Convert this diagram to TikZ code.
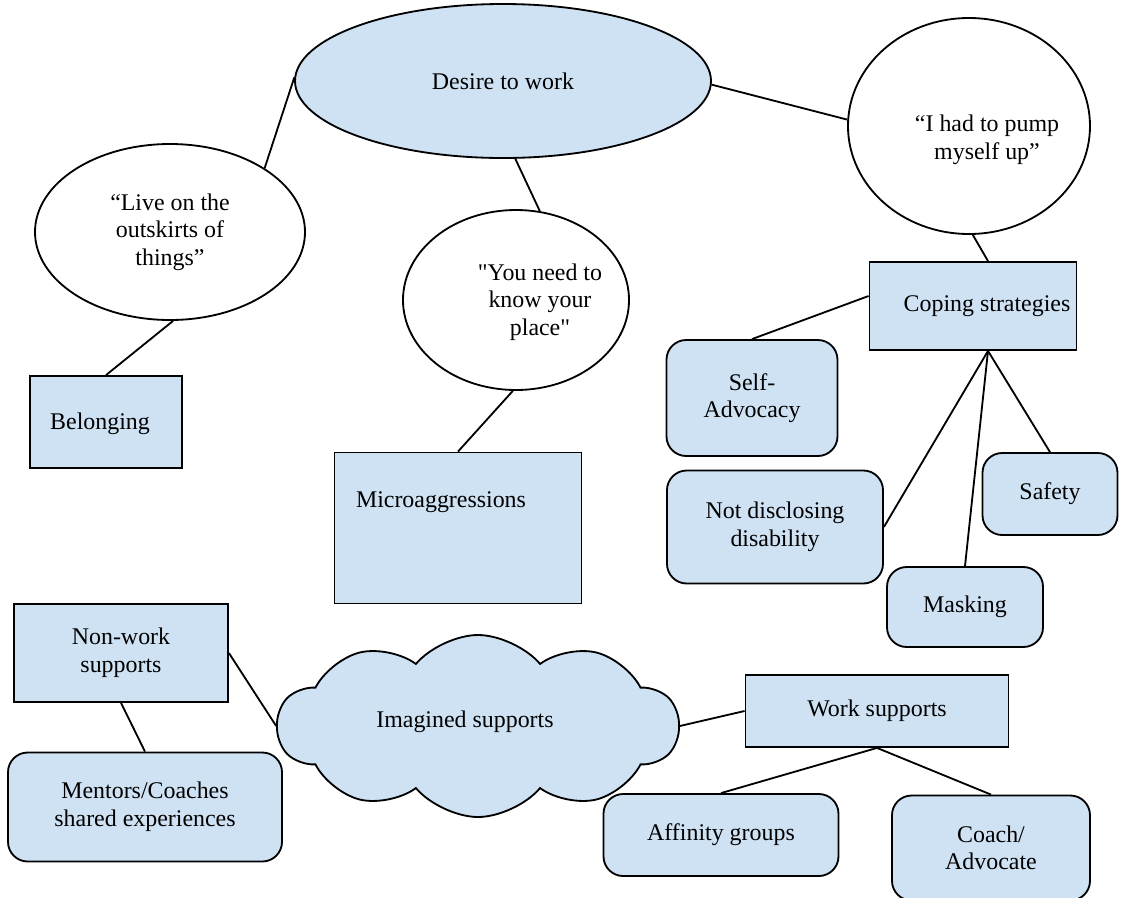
\documentclass[tikz,border=0pt]{standalone}
\usepackage{fontspec}
\setmainfont{Liberation Serif}
\usepackage{xcolor}
\usetikzlibrary{shapes.geometric, shapes.symbols, calc}
\definecolor{paleblue}{RGB}{207,226,243}
\tikzset{
  link/.style={line width=1.3pt},
  bubble/.style={ellipse, draw, line width=1.3pt},
  sqbox/.style={rectangle, draw, fill=paleblue, line width=1.3pt},
  rbox/.style={sqbox, rounded corners=14pt},
  boxsize/.style 2 args={minimum width=#1*0.025cm, minimum height=#2*0.025cm}
}

\begin{document}
\begin{tikzpicture}[x=0.025cm, y=-0.025cm,
  every node/.style={font=\fontsize{17}{19.6}\selectfont, align=center, inner sep=0pt}]
  \useasboundingbox (0,0) rectangle (1126,897);
  %% Top: ellipses
  \node[bubble, fill=paleblue, boxsize={416}{154}] (desire) at (503,81) {Desire to work};
  \node[bubble, fill=white, boxsize={270}{176}] (live) at (170,232)
    {“Live on the\\outskirts of\\things”};
  \node[bubble, fill=white, boxsize={226}{180}] (need) at (516,300) {};
  \node (needtxt) at (540,302)
    {\textquotedbl You need to\\know your\\place\textquotedbl};
  \node[bubble, fill=white, boxsize={242}{216}] (pump) at (969,126) {};
  \node (pumptxt) at (987,140) {“I had to pump\\myself up”};
  %% Coping strategies and its leaves
  \node[sqbox, boxsize={207}{88}] (cope) at (973,306) {};
  \node (copetxt) at (987,306) {Coping strategies};
  \coordinate (copetop) at ($(cope.north)+(15,0)$);
  \coordinate (copehub) at ($(cope.south)+(15,0)$);
  \node[rbox, boxsize={171}{116}] (self) at (752,398) {Self-\\Advocacy};
  \node[rbox, boxsize={216}{113}] (notdis) at (775,527) {Not disclosing\\disability};
  \node[rbox, boxsize={135}{82}] (safety) at (1050,494) {Safety};
  \node[rbox, boxsize={156}{80}] (mask) at (965,607) {Masking};
  %% Left column
  \node[sqbox, boxsize={152}{92}] (belong) at (106,422) {};
  \node (belongtxt) at (100,424) {Belonging};
  \node[sqbox, boxsize={247}{151}] (micro) at (458,528) {};
  \node (microtxt) at (441,502) {Microaggressions};
  %% Supports
  \node[sqbox, boxsize={214}{98}] (nonwork) at (121,653) {Non-work\\supports};
  \node[rbox, boxsize={274}{109}] (mentor) at (145,807) {Mentors/Coaches\\shared experiences};
  \node[cloud, draw, fill=paleblue, line width=1.3pt, cloud puffs=10, cloud puff arc=100,
    aspect=2.2, boxsize={401}{182}] (cloud) at (478,726) {};
  \node (cloudtxt) at (465,722) {Imagined supports};
  \node[sqbox, boxsize={263}{72}] (work) at (877,711) {Work supports};
  \node[rbox, boxsize={235}{82}] (aff) at (721,835) {Affinity groups};
  \node[rbox, boxsize={198}{105}] (coach) at (991,848) {Coach/\\Advocate};
  %% Connectors
  \draw[link] (desire.179) -- (live.34);
  \draw[link] (desire.279) -- (need.75);
  \draw[link] (desire.359) -- (pump.177);
  \draw[link] (live.272) -- (belong.north);
  \draw[link] (need.268) -- (micro.north);
  \draw[link] (pump.272) -- (copetop);
  \draw[link] ($(cope.west)+(0,-10)$) -- (self.north);
  \foreach \leaf in {notdis.east, mask.north, safety.north}
    \draw[link] (copehub) -- (\leaf);
  \draw[link] (nonwork.east) -- (cloud.west);
  \draw[link] (nonwork.south) -- (mentor.north);
  \draw[link] (cloud.east) -- (work.west);
  \draw[link] (work.south) -- (aff.north);
  \draw[link] (work.south) -- (coach.north);
\end{tikzpicture}
\end{document}
